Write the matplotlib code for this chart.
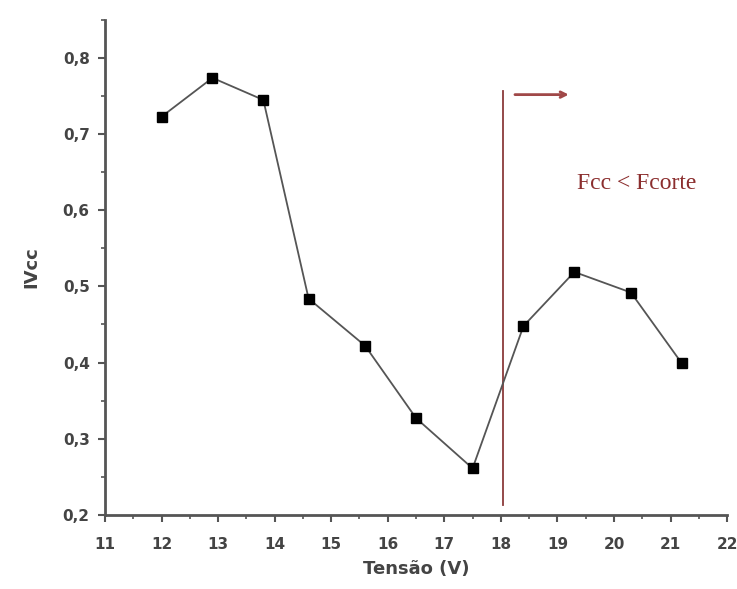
import matplotlib.pyplot as plt
from matplotlib.ticker import MultipleLocator, FuncFormatter

# data
tensao = [12.0, 12.9, 13.8, 14.6, 15.6, 16.5, 17.5, 18.4, 19.3, 20.3, 21.2]
ivcc = [0.723, 0.774, 0.745, 0.484, 0.422, 0.327, 0.261, 0.448, 0.519, 0.492, 0.399]
corte_x = 18.03

fig = plt.figure(figsize=(7.37, 5.89), dpi=100)
ax = fig.add_axes([0.1425, 0.126, 0.844, 0.84])

ax.plot(tensao, ivcc, color='#555555', lw=1.3, marker='s', ms=7,
        mfc='black', mec='black', zorder=3)

# cut-off marker
ax.plot([corte_x, corte_x], [0.213, 0.757], color='#8b3a3a', lw=1.3)
ax.annotate('', xy=(19.25, 0.752), xytext=(18.2, 0.752),
            arrowprops=dict(arrowstyle='->', color='#a04848', lw=2))
ax.text(20.4, 0.635, 'Fcc < Fcorte', color='#8b2e2e', fontsize=17,
        family='Liberation Serif', ha='center', va='center')

ax.set_xlim(11, 22)
ax.set_ylim(0.2, 0.85)
ax.xaxis.set_major_locator(MultipleLocator(1))
ax.xaxis.set_minor_locator(MultipleLocator(0.5))
ax.yaxis.set_major_locator(MultipleLocator(0.1))
ax.yaxis.set_minor_locator(MultipleLocator(0.05))
ax.yaxis.set_major_formatter(FuncFormatter(lambda v, p: ('%.1f' % v).replace('.', ',')))

for s in ['top', 'right']:
    ax.spines[s].set_visible(False)
for s in ['left', 'bottom']:
    ax.spines[s].set_color('#555555')
    ax.spines[s].set_linewidth(2)

ax.tick_params(which='major', length=5, width=1.5, color='#555555',
               labelsize=11, labelcolor='#444444')
ax.tick_params(axis='x', which='major', pad=11)
ax.tick_params(axis='y', which='major', pad=6)
ax.tick_params(which='minor', length=3, width=1.2, color='#555555')
for lbl in ax.get_xticklabels() + ax.get_yticklabels():
    lbl.set_fontweight('bold')

ax.set_xlabel('Tensão (V)', fontsize=13, color='#444444', fontweight='bold', labelpad=6)
ax.set_ylabel('IVcc', fontsize=13, color='#444444', fontweight='bold', labelpad=16)

fig.savefig('out.png', dpi=100)
